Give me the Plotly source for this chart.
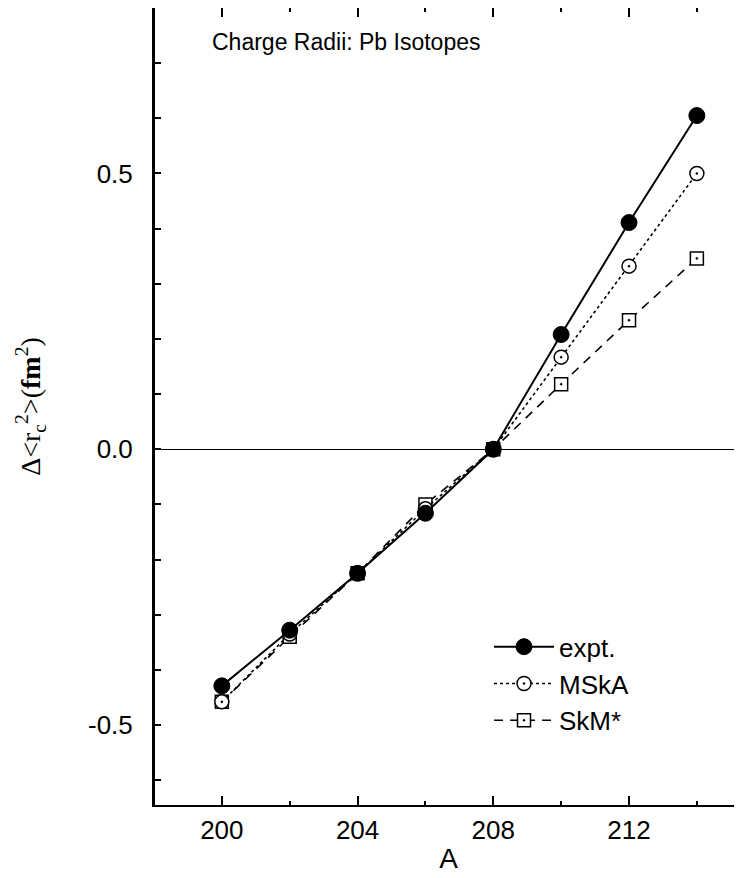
import plotly.graph_objects as go

A = [200, 202, 204, 206, 208, 210, 212, 214]
expt = [-0.429, -0.328, -0.225, -0.116, 0.0, 0.208, 0.411, 0.605]
mska = [-0.458, -0.335, -0.225, -0.108, 0.0, 0.167, 0.332, 0.500]
skm = [-0.458, -0.340, -0.225, -0.100, 0.0, 0.118, 0.234, 0.346]

x_ticks = [200, 204, 208, 212]
y_ticks = [-0.5, 0.0, 0.5]
y_tick_text = ["-0.5", "0.0", "0.5"]

fig = go.Figure()
fig.add_trace(go.Scatter(
    x=A, y=skm, name="SkM*", mode="lines+markers", legendgroup="c", legendrank=3,
    line=dict(color="black", width=1.6, dash="9px,7px"),
    marker=dict(symbol="square-dot", size=13, color="white",
                line=dict(color="black", width=1.5)),
))
fig.add_trace(go.Scatter(
    x=A, y=mska, name="MSkA", mode="lines+markers", legendgroup="b", legendrank=2,
    line=dict(color="black", width=1.6, dash="dot"),
    marker=dict(symbol="circle-dot", size=14, color="white",
                line=dict(color="black", width=1.5)),
))
fig.add_trace(go.Scatter(
    x=A, y=expt, name="expt.", mode="lines+markers", legendgroup="a", legendrank=1,
    line=dict(color="black", width=2),
    marker=dict(symbol="circle", size=16, color="black",
                line=dict(color="black", width=1)),
))

font = "Liberation Sans, Arial, sans-serif"

fig.update_layout(
    width=742, height=878,
    margin=dict(l=147, r=8, t=0, b=81),
    paper_bgcolor="white", plot_bgcolor="white",
    showlegend=True,
    legend=dict(
        x=0.569, y=0.228, xanchor="left", yanchor="top",
        traceorder="grouped", tracegroupgap=0,
        font=dict(family=font, size=26, color="black"),
        bgcolor="rgba(0,0,0,0)", itemwidth=60,
    ),
    annotations=[dict(
        text="Charge Radii: Pb Isotopes", xref="paper", yref="paper",
        x=0.094, y=0.957, xanchor="left", yanchor="middle", showarrow=False,
        font=dict(family=font, size=23, color="black"),
    )],
)

fig.update_xaxes(
    range=[198.03, 215.33], tickvals=x_ticks, ticks="inside", ticklen=9,
    tickwidth=1.5, tickcolor="black",
    minor=dict(dtick=2, tick0=200, ticks="inside", ticklen=4, tickwidth=1.5, tickcolor="black"),
    showline=True, linecolor="black", linewidth=2, mirror="ticks",
    showgrid=False, zeroline=False, automargin=False,
    tickfont=dict(family=font, size=26, color="black"),
    ticklabelstandoff=1,
    title=dict(text="A", font=dict(family=font, size=28, color="black"), standoff=4),
)
fig.update_yaxes(
    range=[-0.645, 0.8], tickvals=y_ticks, ticktext=y_tick_text,
    ticks="inside", ticklen=6, tickwidth=1.5, tickcolor="black",
    minor=dict(dtick=0.1, tick0=0, ticks="inside", ticklen=6, tickwidth=1.5, tickcolor="black"),
    showline=True, linecolor="black", linewidth=3, mirror=False,
    showgrid=False, zeroline=True, zerolinecolor="black", zerolinewidth=1,
    automargin=False,
    tickfont=dict(family=font, size=26, color="black"),
    ticklabelstandoff=14,
    title=dict(
        text="Δ&lt;r<sub>c</sub><sup>2</sup>&gt;(<b>fm</b><sup>2</sup>)",
        font=dict(family="Liberation Serif, Times New Roman, serif", size=28, color="black"),
        standoff=40,
    ),
)

fig.write_html("out.html")
